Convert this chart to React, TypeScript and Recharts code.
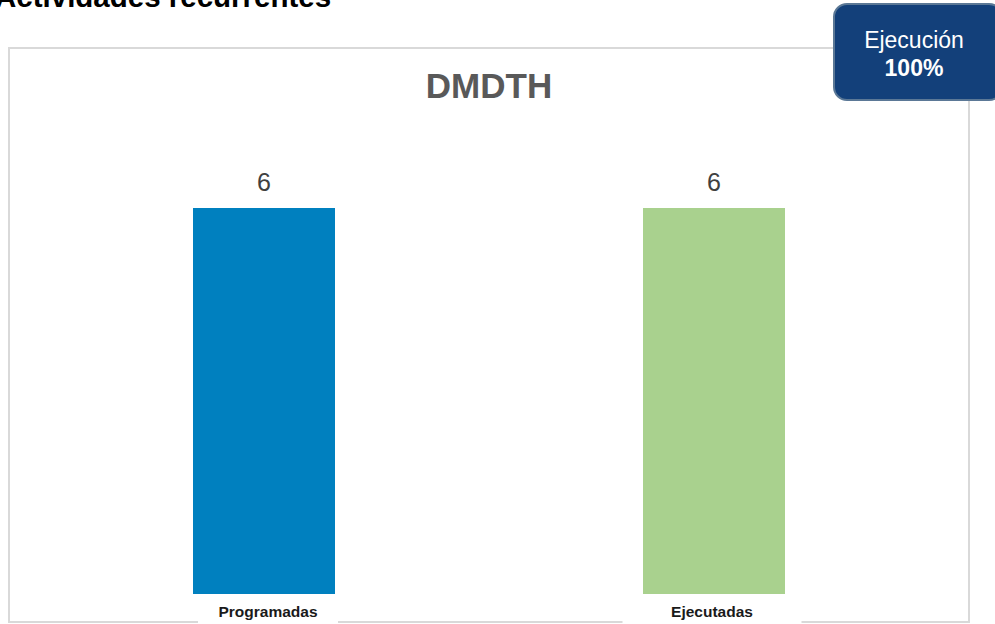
import { Bar, BarChart, Cell, LabelList, XAxis, YAxis } from "recharts";

const categories = ["Programadas", "Ejecutadas"];
const values = [6, 6];
const barColors = ["#0080BF", "#A9D18E"];
const chartTitle = "DMDTH";
const pageTitle = "Actividades recurrentes";
const badgeLabel = "Ejecución";
const badgeValue = "100%";

const data = categories.map((name, i) => ({ name, total: values[i] }));

const FONT = '"Liberation Sans", Arial, sans-serif';

// white label boxes sitting over the bottom frame line
const boxes = [
  { width: 140, shift: 4 },
  { width: 179, shift: -2 }
];

function CategoryTick(props: any) {
  const { x, y, payload, index } = props;
  const box = boxes[index] || { width: 140, shift: 0 };
  const cx = x + box.shift;
  return (
    <g>
      <rect x={cx - box.width / 2} y={y - 6} width={box.width} height={40} fill="#ffffff" />
      <text
        x={cx}
        y={y + 15}
        textAnchor="middle"
        fill="#1a1a1a"
        fontFamily={FONT}
        fontWeight={700}
        fontSize={15.5}
      >
        {payload.value}
      </text>
    </g>
  );
}

export default function App() {
  return (
    <div
      style={{
        position: "absolute",
        left: 0,
        top: 0,
        width: 995,
        height: 624,
        overflow: "hidden",
        background: "#ffffff",
        fontFamily: FONT
      }}
    >
      <div
        style={{
          position: "absolute",
          left: -5,
          top: -20,
          fontSize: 29.5,
          fontWeight: 700,
          color: "#000",
          whiteSpace: "nowrap"
        }}
      >
        {pageTitle}
      </div>

      <div
        style={{
          position: "absolute",
          left: 8,
          top: 47,
          width: 958,
          height: 572,
          border: "2px solid #d9d9d9"
        }}
      />

      <div
        style={{
          position: "absolute",
          left: 0,
          top: 66,
          width: 978,
          textAlign: "center",
          fontSize: 35,
          fontWeight: 700,
          color: "#595959"
        }}
      >
        {chartTitle}
      </div>

      <div style={{ position: "absolute", left: 0, top: 0 }}>
        <BarChart
          width={995}
          height={624}
          data={data}
          margin={{ top: 208, right: 56, bottom: 0, left: 39 }}
        >
          <YAxis hide domain={[0, 6]} />
          <XAxis
            dataKey="name"
            axisLine={false}
            tickLine={false}
            interval={0}
            height={30}
            tick={<CategoryTick />}
          />
          <Bar dataKey="total" barSize={142} isAnimationActive={false}>
            {data.map((d, i) => (
              <Cell key={d.name} fill={barColors[i]} />
            ))}
            <LabelList
              dataKey="total"
              position="top"
              offset={17}
              fill="#404040"
              fontSize={25}
              fontFamily={FONT}
            />
          </Bar>
        </BarChart>
      </div>

      <div
        style={{
          position: "absolute",
          left: 833,
          top: 3,
          width: 170,
          height: 98,
          boxSizing: "border-box",
          background: "#13407A",
          border: "2px solid #5b7896",
          borderRadius: 14,
          color: "#ffffff",
          fontSize: 23,
          lineHeight: "28px",
          paddingTop: 21,
          paddingRight: 8,
          textAlign: "center"
        }}
      >
        <div>{badgeLabel}</div>
        <div style={{ fontWeight: 700 }}>{badgeValue}</div>
      </div>
    </div>
  );
}
